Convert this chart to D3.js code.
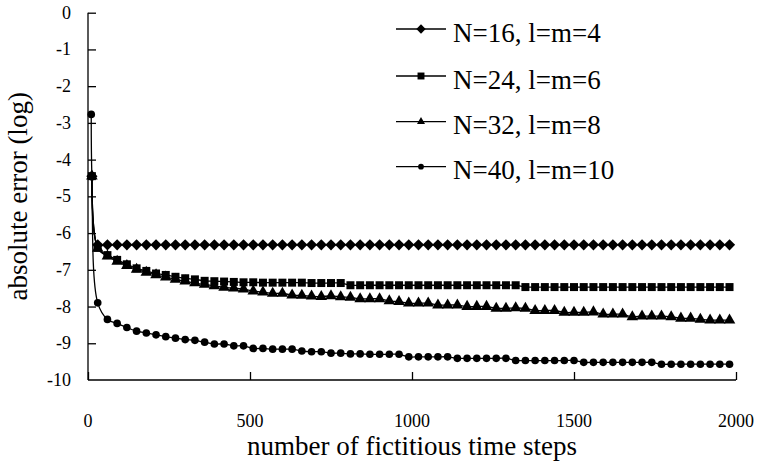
<!DOCTYPE html>
<html>
<head>
<meta charset="utf-8">
<script src="https://d3js.org/d3.v7.min.js"></script>
<style>
  body { margin: 0; background: #fff; }
  svg { display: block; }
</style>
</head>
<body>
<svg id="chart" width="760" height="467"></svg>
<script>
// Sample points along the x axis (fictitious time steps)
const steps = [12, 30, 60, 90, 120, 150, 180, 210, 240, 270, 300, 330, 360, 390, 420, 450,
  480, 510, 540, 570, 600, 630, 660, 690, 720, 750, 780, 810, 840, 870, 900, 930, 960,
  990, 1020, 1050, 1080, 1110, 1140, 1170, 1200, 1230, 1260, 1290, 1320, 1350, 1380,
  1410, 1440, 1470, 1500, 1530, 1560, 1590, 1620, 1650, 1680, 1710, 1740, 1770, 1800,
  1830, 1860, 1890, 1920, 1950, 1980];

// N=40 has one extra point before the others
const firstStepN40 = 10;
const firstValueN40 = -2.77;

const seriesNames = ["N=16, l=m=4", "N=24, l=m=6", "N=32, l=m=8", "N=40, l=m=10"];
const seriesSymbols = ["diamond", "square", "triangle", "circle"];

// log of absolute error
const errN16 = [-4.45, -6.32, -6.32, -6.32, -6.32, -6.32, -6.32, -6.32, -6.32, -6.32, -6.32,
  -6.32, -6.32, -6.32, -6.32, -6.32, -6.32, -6.32, -6.32, -6.32, -6.32, -6.32, -6.32,
  -6.32, -6.32, -6.32, -6.32, -6.32, -6.32, -6.32, -6.32, -6.32, -6.32, -6.32, -6.32,
  -6.32, -6.32, -6.32, -6.32, -6.32, -6.32, -6.32, -6.32, -6.32, -6.32, -6.32, -6.32,
  -6.32, -6.32, -6.32, -6.32, -6.32, -6.32, -6.32, -6.32, -6.32, -6.32, -6.32, -6.32,
  -6.32, -6.32, -6.32, -6.32, -6.32, -6.32, -6.32, -6.32];

const errN24 = [-4.45, -6.40, -6.60, -6.73, -6.85, -6.96, -7.03, -7.10, -7.14, -7.19, -7.23,
  -7.26, -7.30, -7.31, -7.32, -7.33, -7.34, -7.34, -7.35, -7.35, -7.35, -7.35, -7.35,
  -7.36, -7.36, -7.36, -7.36, -7.42, -7.42, -7.42, -7.42, -7.42, -7.42, -7.42, -7.42,
  -7.42, -7.42, -7.42, -7.42, -7.42, -7.42, -7.42, -7.42, -7.42, -7.42, -7.47, -7.47,
  -7.47, -7.47, -7.47, -7.47, -7.47, -7.47, -7.47, -7.47, -7.47, -7.47, -7.47, -7.47,
  -7.47, -7.47, -7.47, -7.47, -7.47, -7.47, -7.47, -7.47];

const errN32 = [-4.45, -6.42, -6.63, -6.77, -6.89, -6.99, -7.07, -7.14, -7.20, -7.26, -7.31,
  -7.36, -7.40, -7.44, -7.48, -7.50, -7.53, -7.58, -7.61, -7.64, -7.64, -7.69, -7.70,
  -7.72, -7.73, -7.71, -7.74, -7.75, -7.79, -7.79, -7.79, -7.85, -7.87, -7.91, -7.91,
  -7.91, -7.96, -7.96, -7.96, -8.00, -8.00, -8.00, -8.05, -8.05, -8.04, -8.05, -8.11,
  -8.11, -8.11, -8.16, -8.16, -8.16, -8.15, -8.21, -8.21, -8.21, -8.28, -8.26, -8.26,
  -8.26, -8.28, -8.32, -8.32, -8.35, -8.37, -8.37, -8.37];

const errN40 = [-4.45, -7.90, -8.35, -8.46, -8.57, -8.67, -8.72, -8.77, -8.82, -8.86, -8.90,
  -8.92, -8.97, -9.02, -9.02, -9.07, -9.07, -9.14, -9.14, -9.16, -9.16, -9.16, -9.21,
  -9.23, -9.23, -9.27, -9.27, -9.29, -9.29, -9.30, -9.30, -9.30, -9.30, -9.37, -9.37,
  -9.37, -9.37, -9.37, -9.41, -9.41, -9.41, -9.41, -9.41, -9.41, -9.47, -9.47, -9.47,
  -9.47, -9.47, -9.47, -9.47, -9.52, -9.52, -9.52, -9.52, -9.52, -9.52, -9.52, -9.52,
  -9.57, -9.57, -9.57, -9.57, -9.57, -9.57, -9.57, -9.57];

const xTicks = [0, 500, 1000, 1500, 2000];
const yTicks = [0, -1, -2, -3, -4, -5, -6, -7, -8, -9, -10];

// Build point lists for each series
let seriesData = [errN16, errN24, errN32, errN40].map(function(vals) {
  return steps.map(function(s, i) { return [s, vals[i]]; });
});
seriesData[3].unshift([firstStepN40, firstValueN40]);

let svg = d3.select("#chart");
// serif font, Times-like
const font = "'Liberation Serif', 'Times New Roman', 'DejaVu Serif', serif";

// Plot area
let plotLeft = 88, plotRight = 736, plotTop = 12.7, plotBottom = 380;

let x = d3.scaleLinear().domain([0, 2000]).range([plotLeft, plotRight]);
let y = d3.scaleLinear().domain([-10, 0]).range([plotBottom, plotTop]);

// x axis, ticks point inward (up)
let xAxis = svg.append("g")
  .attr("transform", "translate(0," + plotBottom + ")")
  .call(d3.axisTop(x).tickValues(xTicks).tickSize(8).tickFormat(""));
xAxis.select(".domain").attr("d", "M" + plotLeft + ",0H" + plotRight).attr("stroke", "#000").attr("stroke-width", 1.3);
xAxis.selectAll(".tick line").attr("stroke", "#000").attr("stroke-width", 1.3);

// x tick labels sit well below the axis
svg.append("g").selectAll("text")
  .data(xTicks)
  .enter()
  .append("text")
  .attr("x", function(d) { return x(d); })
  .attr("y", 427)
  .attr("text-anchor", "middle")
  .attr("font-family", font)
  .attr("font-size", 18)
  .text(function(d) { return d; });

// y axis, ticks point inward (right)
let yAxis = svg.append("g")
  .attr("transform", "translate(" + plotLeft + ",0)")
  .call(d3.axisRight(y).tickValues(yTicks.slice(0, 10)).tickSize(8).tickFormat(""));
yAxis.select(".domain").attr("d", "M0," + plotTop + "V" + plotBottom).attr("stroke", "#000").attr("stroke-width", 1.3);
yAxis.selectAll(".tick line").attr("stroke", "#000").attr("stroke-width", 1.3);

svg.append("g").selectAll("text")
  .data(yTicks)
  .enter()
  .append("text")
  .attr("x", 71)
  .attr("y", function(d) { return y(d) + 6; })
  .attr("text-anchor", "end")
  .attr("font-family", font)
  .attr("font-size", 18)
  .text(function(d) { return d; });

// Axis titles
svg.append("text")
  .attr("x", (plotLeft + plotRight) / 2)
  .attr("y", 455)
  .attr("text-anchor", "middle")
  .attr("font-family", font)
  .attr("font-size", 27)
  .text("number of fictitious time steps");

svg.append("text")
  .attr("transform", "translate(27," + ((plotTop + plotBottom) / 2) + ") rotate(-90)")
  .attr("text-anchor", "middle")
  .attr("font-family", font)
  .attr("font-size", 27)
  .text("absolute error (log)");

// Marker shapes
const symbolTypes = {
  diamond: { type: d3.symbolDiamond2, size: 80 },
  square: { type: d3.symbolSquare, size: 64 },
  triangle: { type: d3.symbolTriangle, size: 58 },
  circle: { type: d3.symbolCircle, size: 46 }
};

let line = d3.line()
  .x(function(d) { return x(d[0]); })
  .y(function(d) { return y(d[1]); })
  .curve(d3.curveCatmullRom.alpha(0.5));

// Draw lines and markers for all series
for (let k = 0; k < seriesData.length; k++) {
  let g = svg.append("g");
  g.append("path")
    .attr("d", line(seriesData[k]))
    .attr("fill", "none")
    .attr("stroke", "#000")
    .attr("stroke-width", 1.3);

  let sym = symbolTypes[seriesSymbols[k]];
  g.selectAll("path.marker")
    .data(seriesData[k])
    .enter()
    .append("path")
    .attr("class", "marker")
    .attr("transform", function(d) { return "translate(" + x(d[0]) + "," + y(d[1]) + ")"; })
    .attr("d", d3.symbol().type(sym.type).size(sym.size))
    .attr("fill", "#000");
}

// Legend
let legendY = [29, 76, 121.7, 166.7];
let legendMarkerSize = [56, 48, 28, 26];
for (let k = 0; k < seriesNames.length; k++) {
  svg.append("line")
    .attr("x1", 396)
    .attr("x2", 446)
    .attr("y1", legendY[k])
    .attr("y2", legendY[k])
    .attr("stroke", "#000")
    .attr("stroke-width", 1.3);
  svg.append("path")
    .attr("transform", "translate(421," + legendY[k] + ")")
    .attr("d", d3.symbol().type(symbolTypes[seriesSymbols[k]].type).size(legendMarkerSize[k]))
    .attr("fill", "#000");
  svg.append("text")
    .attr("x", 453)
    .attr("y", legendY[k] + 12.5)
    .attr("font-family", font)
    .attr("font-size", 27)
    .text(seriesNames[k]);
}
</script>
</body>
</html>
